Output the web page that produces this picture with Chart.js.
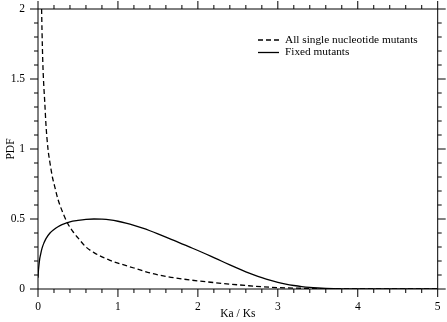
<!DOCTYPE html>
<html>
<head>
<meta charset="utf-8">
<script src="https://cdn.jsdelivr.net/npm/chart.js@4/dist/chart.umd.min.js"></script>
<style>
  html, body { margin: 0; padding: 0; background: #fff; }
  #wrap { width: 447px; height: 322px; }
</style>
</head>
<body>
<div id="wrap"><canvas id="c" width="447" height="322"></canvas></div>
<script>
// ---- data ----
const seriesLabels = ["All single nucleotide mutants", "Fixed mutants"];
const allMutantsX = [0.045, 0.05, 0.06, 0.07, 0.085, 0.1, 0.125, 0.15, 0.18, 0.21, 0.25, 0.3, 0.37, 0.45, 0.5, 0.6, 0.7, 0.8, 0.9, 1.0, 1.2, 1.4, 1.6, 1.8, 2.0, 2.2, 2.4, 2.6, 2.8, 3.0, 3.25, 3.5, 4.0, 4.5, 5.0];
const allMutantsY = [2.0, 1.85, 1.62, 1.48, 1.33, 1.17, 1.0, 0.9, 0.8, 0.73, 0.64, 0.56, 0.47, 0.40, 0.365, 0.30, 0.26, 0.23, 0.205, 0.185, 0.15, 0.115, 0.09, 0.072, 0.058, 0.046, 0.035, 0.025, 0.016, 0.01, 0.006, 0.003, 0.001, 0.0, 0.0];
const fixedX = [0.0, 0.005, 0.01, 0.02, 0.03, 0.05, 0.075, 0.1, 0.15, 0.2, 0.25, 0.3, 0.4, 0.5, 0.6, 0.7, 0.8, 0.9, 1.0, 1.1, 1.2, 1.3, 1.4, 1.5, 1.6, 1.7, 1.8, 1.9, 2.0, 2.1, 2.2, 2.3, 2.4, 2.5, 2.6, 2.7, 2.8, 2.9, 3.0, 3.1, 3.2, 3.3, 3.4, 3.5, 3.6, 3.7, 3.8, 4.0, 5.0];
const fixedY = [0.08, 0.13, 0.16, 0.21, 0.24, 0.29, 0.33, 0.36, 0.40, 0.425, 0.445, 0.46, 0.48, 0.49, 0.497, 0.50, 0.499, 0.494, 0.484, 0.47, 0.454, 0.436, 0.416, 0.394, 0.371, 0.347, 0.323, 0.299, 0.275, 0.25, 0.224, 0.198, 0.172, 0.147, 0.123, 0.101, 0.081, 0.063, 0.048, 0.035, 0.025, 0.017, 0.011, 0.007, 0.004, 0.002, 0.001, 0.0, 0.0];
const xMajorTicks = [0, 1, 2, 3, 4, 5];
const yMajorTicks = [0, 0.5, 1, 1.5, 2];
const xAxisTitle = "Ka / Ks";
const yAxisTitle = "PDF";

const FONT = "'Liberation Serif', 'Times New Roman', serif";

function pts(xs, ys) { return xs.map((x, i) => ({ x: x, y: ys[i] })); }

const framePlugin = {
  id: 'frame',
  afterDraw(chart) {
    const ctx = chart.ctx;
    const a = chart.chartArea;
    const xs = chart.scales.x, ys = chart.scales.y;
    ctx.save();
    ctx.strokeStyle = '#000';
    ctx.lineWidth = 1;
    ctx.beginPath();
    ctx.rect(a.left, a.top, a.right - a.left, a.bottom - a.top);
    ctx.stroke();
    ctx.beginPath();
    // x ticks (top & bottom, outward)
    for (let i = 0; i <= 25; i++) {
      const v = i * 0.2;
      const major = i % 5 === 0;
      const len = major ? 8 : 4;
      const px = xs.getPixelForValue(v);
      ctx.moveTo(px, a.bottom); ctx.lineTo(px, a.bottom + len);
      ctx.moveTo(px, a.top); ctx.lineTo(px, a.top - len);
    }
    // y ticks (left & right, outward)
    for (let i = 0; i <= 20; i++) {
      const v = i * 0.1;
      const major = i % 5 === 0;
      const len = major ? 8 : 4;
      const py = ys.getPixelForValue(v);
      ctx.moveTo(a.left, py); ctx.lineTo(a.left - len, py);
      ctx.moveTo(a.right, py); ctx.lineTo(a.right + len, py);
    }
    ctx.stroke();

    // legend
    const lx0 = 258, lx1 = 279, tx = 285;
    const rows = [40, 52.5];
    chart.data.datasets.forEach((ds, i) => {
      const y = rows[i];
      ctx.beginPath();
      ctx.setLineDash(ds.borderDash || []);
      ctx.lineWidth = ds.borderWidth;
      ctx.strokeStyle = ds.borderColor;
      ctx.moveTo(lx0, y); ctx.lineTo(lx1, y);
      ctx.stroke();
      ctx.setLineDash([]);
      ctx.fillStyle = '#000';
      ctx.font = "11.3px " + FONT;
      ctx.textBaseline = 'middle';
      ctx.textAlign = 'left';
      ctx.fillText(ds.label, tx, y);
    });
    ctx.restore();
  }
};

new Chart(document.getElementById('c'), {
  type: 'line',
  data: {
    datasets: [
      {
        label: seriesLabels[0],
        data: pts(allMutantsX, allMutantsY),
        borderColor: '#000',
        borderWidth: 1.3,
        borderDash: [5, 3],
        pointRadius: 0,
        fill: false,
        cubicInterpolationMode: 'monotone'
      },
      {
        label: seriesLabels[1],
        data: pts(fixedX, fixedY),
        borderColor: '#000',
        borderWidth: 1.3,
        pointRadius: 0,
        fill: false,
        cubicInterpolationMode: 'monotone'
      }
    ]
  },
  options: {
    responsive: false,
    animation: false,
    events: [],
    layout: { padding: { top: 9, right: 9.3, left: 0, bottom: 0 } },
    plugins: { legend: { display: false }, tooltip: { enabled: false } },
    scales: {
      x: {
        type: 'linear',
        min: 0, max: 5,
        grid: { display: false, drawTicks: false },
        border: { display: false },
        afterBuildTicks(scale) { scale.ticks = xMajorTicks.map(v => ({ value: v })); },
        afterFit(scale) { scale.height = 33; scale.paddingLeft = 0; scale.paddingRight = 0; },
        ticks: {
          color: '#000', padding: 11, maxRotation: 0,
          font: { family: FONT, size: 11.5 },
          callback: v => String(v)
        },
        title: {
          display: true, text: xAxisTitle, color: '#000',
          font: { family: FONT, size: 11.5 },
          padding: { top: 0, bottom: 1 }
        }
      },
      y: {
        type: 'linear',
        min: 0, max: 2,
        grid: { display: false, drawTicks: false },
        border: { display: false },
        afterBuildTicks(scale) { scale.ticks = yMajorTicks.map(v => ({ value: v })); },
        afterFit(scale) { scale.width = 38; scale.paddingTop = 0; scale.paddingBottom = 0; },
        ticks: {
          color: '#000', padding: 13,
          font: { family: FONT, size: 11.5 },
          callback: v => String(v)
        },
        title: {
          display: true, text: yAxisTitle, color: '#000',
          font: { family: FONT, size: 11.5 },
          padding: { top: 4, bottom: 0 }
        }
      }
    }
  },
  plugins: [framePlugin]
});
</script>
</body>
</html>
